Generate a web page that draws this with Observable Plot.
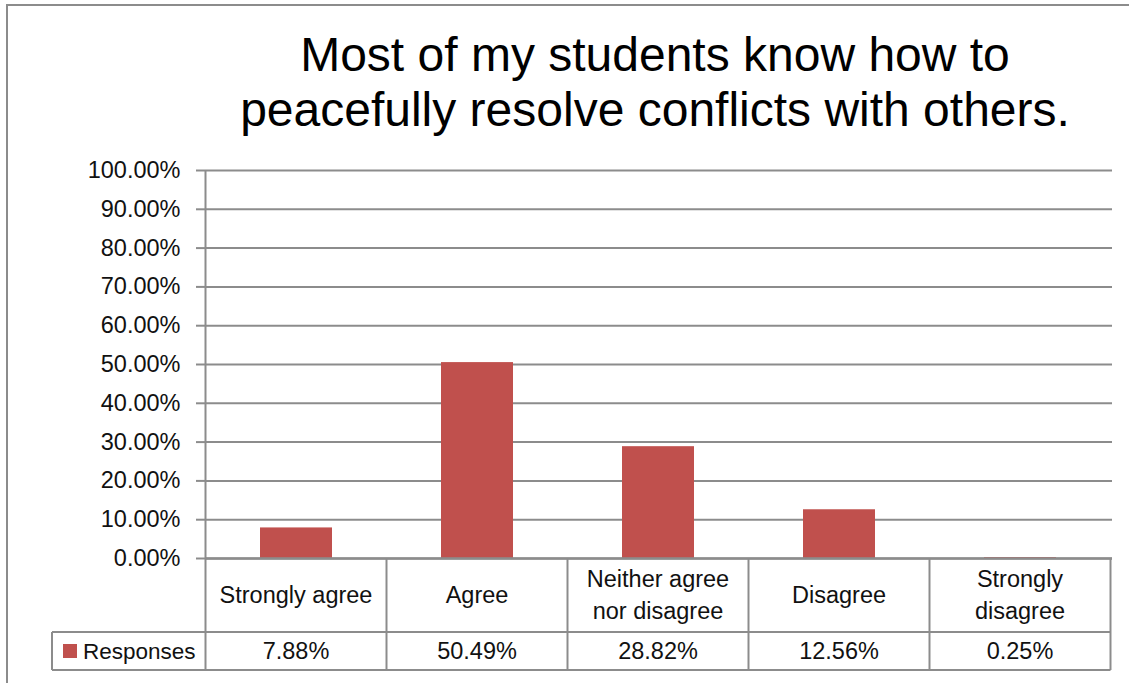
<!DOCTYPE html>
<html><head><meta charset="utf-8">
<script src="https://cdn.jsdelivr.net/npm/d3@7"></script>
<script src="https://cdn.jsdelivr.net/npm/@observablehq/plot@0.6"></script>
<style>
body{margin:0;background:#fff;}
#wrap{position:relative;width:1129px;height:683px;overflow:hidden;font-family:"Liberation Sans",Arial,sans-serif;background:#fff;}
#frame{position:absolute;left:6px;top:4px;width:1300px;height:900px;border:2px solid #8c8c8c;box-sizing:border-box;}
#title{position:absolute;left:0;width:1310px;top:27px;text-align:center;font-size:48px;line-height:55px;color:#000;}
#chart{position:absolute;left:0;top:0;}
</style></head>
<body>
<div id="wrap"><div id="frame"></div><div id="chart"></div>
<div id="title">Most of my students know how to<br>peacefully resolve conflicts with others.</div></div>
<script>
const categories = ["Strongly agree", "Agree", "Neither agree nor disagree", "Disagree", "Strongly disagree"];
const categoryLines = [["Strongly agree"], ["Agree"], ["Neither agree", "nor disagree"], ["Disagree"], ["Strongly", "disagree"]];
const responses = [0.0788, 0.5049, 0.2882, 0.1256, 0.0025];
const seriesName = "Responses";
const yTicks = [0, 0.1, 0.2, 0.3, 0.4, 0.5, 0.6, 0.7, 0.8, 0.9, 1.0];

const data = categories.map((c, i) => ({category: c, value: responses[i]}));
const grid = "#8c8c8c";
const fmt = d3.format(".2%");
const fontSize = 23.5;

const plot = Plot.plot({
  width: 1129, height: 683,
  marginLeft: 205, marginRight: 17, marginTop: 170, marginBottom: 125,
  style: {fontFamily: '"Liberation Sans", Arial, sans-serif', fontSize: fontSize + "px", color: "#111", background: "transparent"},
  x: {domain: categories, paddingInner: 0.6, paddingOuter: 0.3, axis: null},
  y: {domain: [0, 1], ticks: yTicks, tickFormat: fmt},
  marks: [
    Plot.ruleY(yTicks, {stroke: grid, strokeWidth: 2}),
    Plot.barY(data, {x: "category", y: "value", fill: "#C0504D"}),
    Plot.ruleY([0], {stroke: grid, strokeWidth: 2.5}),
    Plot.axisY({ticks: yTicks, tickFormat: fmt, tickSize: 9, tickPadding: 16, stroke: grid, strokeWidth: 2, strokeOpacity: 1, label: null, fontSize: fontSize, fill: "#111"})
  ]
});
document.getElementById("chart").appendChild(plot);

// Data table below the plot, derived from the plot's scales
const xs = plot.scale("x");
const ysc = plot.scale("y");
const stepW = xs.step ?? (xs.apply(categories[1]) - xs.apply(categories[0]));
const bw = xs.bandwidth ?? stepW * 0.4;
const centers = categories.map(c => xs.apply(c) + bw / 2);
const leftX = centers[0] - stepW / 2, rightX = centers[centers.length - 1] + stepW / 2;
const baseY = ysc.apply(0), topY = ysc.apply(1);
const rowMid = baseY + 74, rowBot = rowMid + 38, legendLeft = 52;

const svg = d3.select(plot);
const g = svg.append("g").attr("stroke", grid).attr("stroke-width", 2);
g.append("line").attr("x1", leftX).attr("x2", leftX).attr("y1", topY).attr("y2", rowBot);
centers.forEach(c => g.append("line").attr("x1", c + stepW / 2).attr("x2", c + stepW / 2).attr("y1", baseY).attr("y2", rowBot));
g.append("line").attr("x1", legendLeft).attr("x2", rightX).attr("y1", rowMid).attr("y2", rowMid);
g.append("line").attr("x1", legendLeft).attr("x2", rightX).attr("y1", rowBot).attr("y2", rowBot);
g.append("line").attr("x1", legendLeft).attr("x2", legendLeft).attr("y1", rowMid).attr("y2", rowBot);

const t = svg.append("g").attr("font-family", '"Liberation Sans", Arial, sans-serif').attr("font-size", fontSize).attr("fill", "#111").attr("text-anchor", "middle");
categoryLines.forEach((lines, i) => {
  const lh = 32;
  const cy = (baseY + rowMid) / 2;
  lines.forEach((ln, j) => {
    t.append("text").attr("x", centers[i]).attr("y", cy + (j - (lines.length - 1) / 2) * lh).attr("dy", "0.35em").text(ln);
  });
  t.append("text").attr("x", centers[i]).attr("y", (rowMid + rowBot) / 2).attr("dy", "0.35em").text(fmt(responses[i]));
});
svg.append("rect").attr("x", legendLeft + 11).attr("y", (rowMid + rowBot) / 2 - 7).attr("width", 14).attr("height", 14).attr("fill", "#C0504D");
t.append("text").attr("x", legendLeft + 31).attr("y", (rowMid + rowBot) / 2).attr("dy", "0.35em").attr("text-anchor", "start").attr("font-size", 22.5).text(seriesName);
</script>
</body></html>
